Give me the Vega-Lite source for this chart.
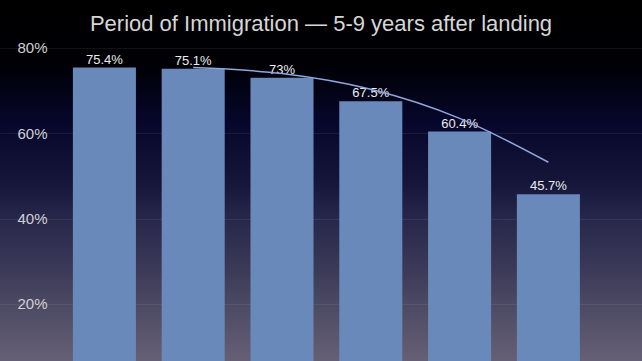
{
  "$schema": "https://vega.github.io/schema/vega-lite/v6.json",
  "width": 642,
  "height": 361,
  "autosize": {"type": "none"},
  "padding": 0,
  "background": "#000000",
  "title": {
    "text": "Period of Immigration — 5-9 years after landing",
    "font": "Liberation Sans",
    "fontSize": 22,
    "fontWeight": "normal",
    "color": "#d6d6d6",
    "anchor": "middle",
    "frame": "group",
    "baseline": "alphabetic",
    "offset": -53
  },
  "config": {
    "view": {
      "stroke": null,
      "fill": {
        "gradient": "linear",
        "x1": 0, "y1": 0, "x2": 0, "y2": 1,
        "stops": [
          {"offset": 0, "color": "#000000"},
          {"offset": 0.18, "color": "#000005"},
          {"offset": 0.33, "color": "#06062a"},
          {"offset": 0.5, "color": "#15153a"},
          {"offset": 0.6, "color": "#26264a"},
          {"offset": 0.75, "color": "#3c3a58"},
          {"offset": 0.85, "color": "#4d4a64"},
          {"offset": 1, "color": "#666075"}
        ]
      }
    }
  },
  "datasets": {
    "bars": [
      {"period": "P1", "share": 0.754},
      {"period": "P2", "share": 0.751},
      {"period": "P3", "share": 0.73},
      {"period": "P4", "share": 0.675},
      {"period": "P5", "share": 0.604},
      {"period": "P6", "share": 0.457}
    ],
    "trend": [
      {"period": "P2", "share": 0.754},
      {"period": "P3", "share": 0.740},
      {"period": "P4", "share": 0.703},
      {"period": "P5", "share": 0.635},
      {"period": "P6", "share": 0.532}
    ]
  },
  "encoding": {
    "x": {
      "field": "period",
      "type": "nominal",
      "sort": null,
      "scale": {"domain": ["P1", "P2", "P3", "P4", "P5", "P6"], "paddingInner": 0.29, "paddingOuter": 0.76, "align": 0.54},
      "axis": null
    },
    "y": {
      "field": "share",
      "type": "quantitative",
      "scale": {"domain": [0.066, 0.9125], "nice": false, "zero": false},
      "axis": {
        "orient": "left",
        "offset": -47,
        "format": ".0%",
        "values": [0.2, 0.4, 0.6, 0.8],
        "domain": false,
        "ticks": false,
        "labelPadding": 0,
        "labelFont": "Liberation Sans",
        "labelFontSize": 15,
        "labelColor": "#d0d0d0",
        "title": null,
        "grid": true,
        "gridColor": "#ffffff",
        "gridOpacity": 0.07
      }
    }
  },
  "layer": [
    {
      "data": {"name": "bars"},
      "mark": {"type": "bar", "color": "#6889b9", "clip": true}
    },
    {
      "data": {"name": "bars"},
      "mark": {"type": "text", "baseline": "alphabetic", "dy": -4, "font": "Liberation Sans", "fontSize": 13, "color": "#ececec"},
      "encoding": {"text": {"field": "share", "type": "quantitative", "format": ".1~%"}}
    },
    {
      "data": {"name": "trend"},
      "mark": {"type": "line", "color": "#8ea6da", "strokeWidth": 1.5, "interpolate": "monotone"}
    }
  ]
}
